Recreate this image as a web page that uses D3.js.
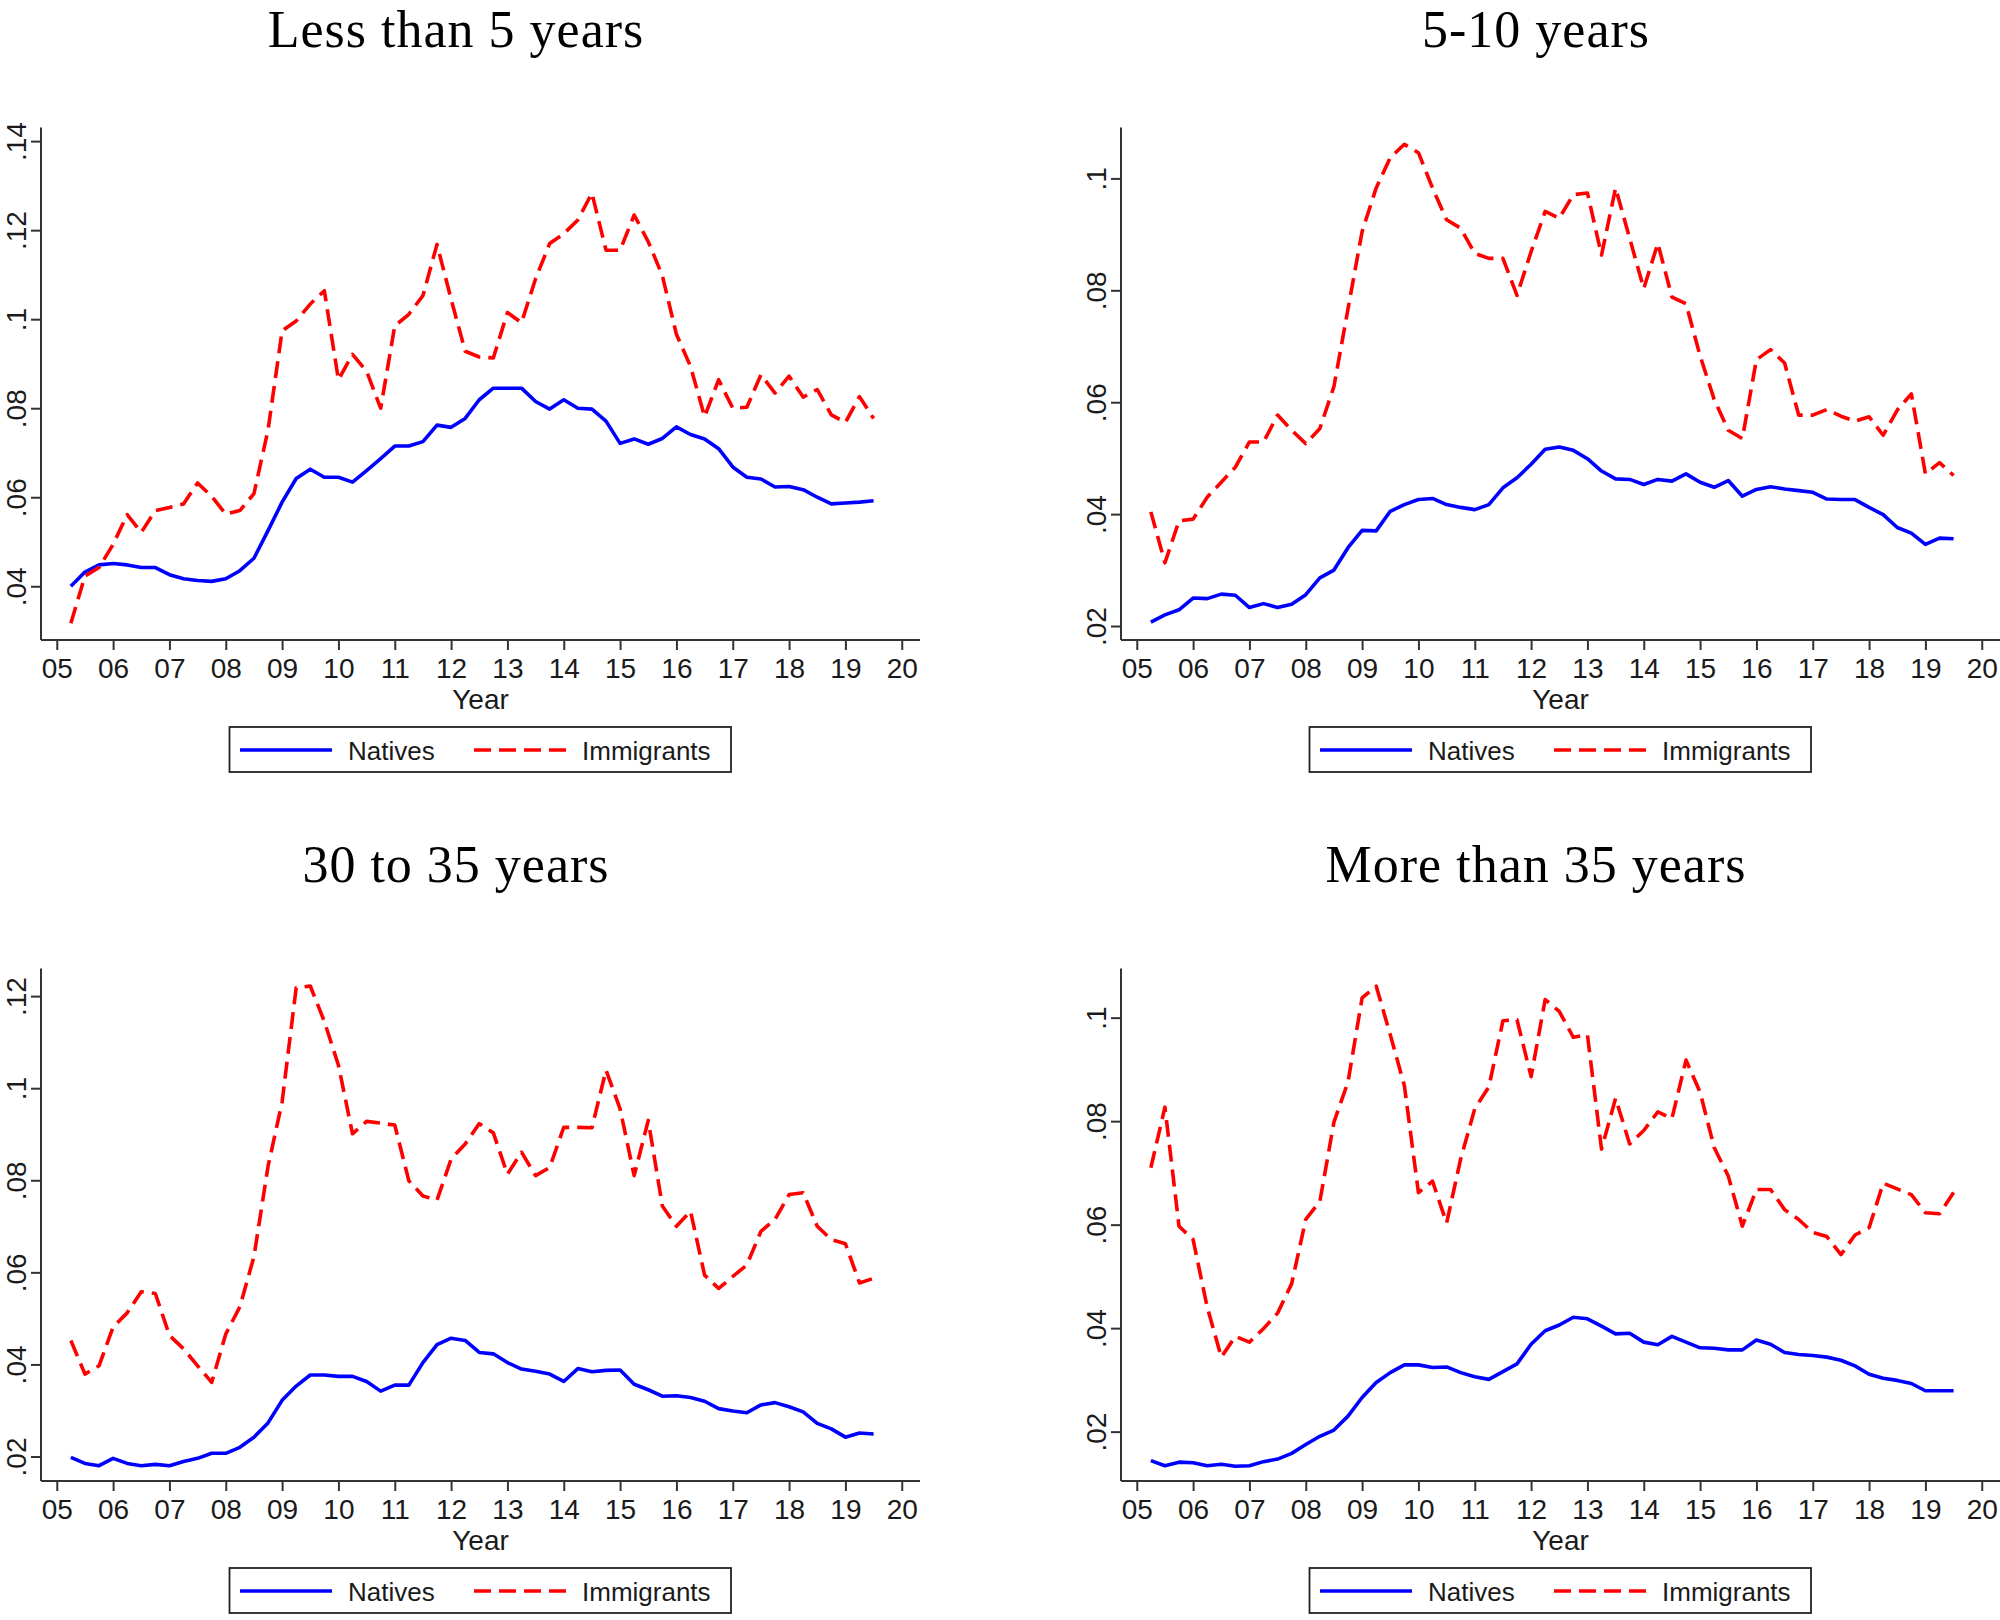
<!DOCTYPE html>
<html>
<head>
<meta charset="utf-8">
<script src="https://cdn.jsdelivr.net/npm/d3@7"></script>
<style>
  body { margin: 0; background: #fff; }
  svg { display: block; }
</style>
</head>
<body>
<svg id="chart" width="2000" height="1620"></svg>
<script>
// quarters (year - 2000)
const quarters = [5.25, 5.5, 5.75,
  6, 6.25, 6.5, 6.75, 7, 7.25, 7.5, 7.75, 8, 8.25, 8.5, 8.75,
  9, 9.25, 9.5, 9.75, 10, 10.25, 10.5, 10.75, 11, 11.25, 11.5, 11.75,
  12, 12.25, 12.5, 12.75, 13, 13.25, 13.5, 13.75, 14, 14.25, 14.5, 14.75,
  15, 15.25, 15.5, 15.75, 16, 16.25, 16.5, 16.75, 17, 17.25, 17.5, 17.75,
  18, 18.25, 18.5, 18.75, 19, 19.25, 19.5]

const xTicks = [5, 6, 7, 8, 9, 10, 11, 12, 13, 14, 15, 16, 17, 18, 19, 20]
const xTickLabels = ["05", "06", "07", "08", "09", "10", "11", "12", "13", "14", "15", "16", "17", "18", "19", "20"]
const xDomain = [4.72, 20.324]

const titles = ["Less than 5 years", "5-10 years", "30 to 35 years", "More than 35 years"]
const seriesNames = ["Natives", "Immigrants"]

const natLt5 = [.0400, .0432, .0448, .0451, .0448, .0442, .0442, .0426, .0417, .0413, .0411, .0417, .0435, .0463, .0525,
  .0589, .0642, .0663, .0645, .0645, .0634, .0660, .0687, .0715, .0715, .0725, .0762, .0757, .0777, .0819, .0845,
  .0845, .0845, .0815, .0798, .0819, .0800, .0798, .0771, .0721, .0731, .0719, .0732, .0758, .0741, .0731, .0709,
  .0668, .0645, .0641, .0623, .0624, .0617, .0600, .0585, .0587, .0589, .0592]
const immLt5 = [.0317, .0423, .0442, .0494, .0561, .0521, .0570, .0577, .0585, .0632, .0602, .0562, .0570, .0608, .0751,
  .0974, .0996, .1034, .1064, .0864, .0921, .0883, .0800, .0985, .1011, .1053, .1168, .1045, .0928, .0915, .0913,
  .1015, .0992, .1091, .1170, .1192, .1223, .1283, .1155, .1155, .1234, .1174, .1098, .0966, .0894, .0781, .0864,
  .0800, .0802, .0875, .0834, .0872, .0825, .0842, .0785, .0768, .0826, .0777]

const nat5to10 = [.0207, .0220, .0229, .0250, .0249, .0257, .0255, .0233, .0240, .0233, .0239, .0256, .0286, .0300, .0340,
  .0371, .0370, .0405, .0417, .0426, .0428, .0417, .0412, .0408, .0417, .0447, .0465, .0489, .0516, .0520, .0514,
  .0499, .0477, .0463, .0462, .0453, .0462, .0459, .0472, .0457, .0448, .0460, .0432, .0444, .0449, .0445, .0442,
  .0439, .0427, .0426, .0426, .0412, .0399, .0376, .0366, .0346, .0357, .0356]
const imm5to10 = [.0404, .0313, .0388, .0391, .0430, .0457, .0484, .0529, .0529, .0577, .0550, .0526, .0553, .0628, .0767,
  .0905, .0983, .1037, .1061, .1046, .0983, .0926, .0911, .0866, .0857, .0857, .0791, .0869, .0941, .0929, .0971,
  .0974, .0863, .0983, .0893, .0803, .0884, .0788, .0776, .0683, .0605, .0550, .0535, .0676, .0694, .0670, .0577,
  .0577, .0587, .0575, .0566, .0574, .0541, .0586, .0615, .0472, .0492, .0469]

const nat30to35 = [.0198, .0185, .0180, .0196, .0185, .0180, .0183, .0180, .0189, .0196, .0207, .0207, .0220, .0242, .0273,
  .0322, .0353, .0377, .0377, .0374, .0374, .0363, .0342, .0355, .0355, .0404, .0443, .0457, .0452, .0426, .0423,
  .0404, .0390, .0385, .0379, .0363, .0391, .0384, .0387, .0388, .0357, .0345, .0331, .0332, .0328, .0320, .0304,
  .0299, .0295, .0312, .0317, .0308, .0297, .0272, .0260, .0242, .0251, .0249]
const imm30to35 = [.0452, .0379, .0397, .0481, .0512, .0558, .0554, .0463, .0434, .0397, .0361, .0466, .0525, .0634, .0830,
  .0970, .1218, .1222, .1145, .1050, .0901, .0928, .0924, .0920, .0799, .0766, .0757, .0846, .0879, .0923, .0903,
  .0813, .0861, .0810, .0828, .0915, .0915, .0914, .1039, .0955, .0810, .0930, .0744, .0700, .0733, .0594, .0565,
  .0591, .0616, .0689, .0715, .0769, .0773, .0700, .0671, .0662, .0577, .0587]

const natGt35 = [.0144, .0134, .0141, .0140, .0134, .0137, .0133, .0134, .0142, .0147, .0158, .0175, .0191, .0203, .0230,
  .0266, .0295, .0314, .0329, .0329, .0324, .0325, .0314, .0306, .0301, .0316, .0331, .0369, .0395, .0406, .0421,
  .0418, .0404, .0389, .0390, .0373, .0368, .0384, .0373, .0362, .0361, .0358, .0358, .0377, .0369, .0353, .0349,
  .0347, .0344, .0338, .0327, .0311, .0303, .0299, .0293, .0279, .0279, .0279]
const immGt35 = [.0710, .0827, .0597, .0571, .0441, .0344, .0384, .0373, .0399, .0429, .0486, .0610, .0645, .0798, .0876,
  .1038, .1061, .0967, .0869, .0662, .0684, .0603, .0727, .0824, .0866, .0994, .0996, .0886, .1035, .1012, .0962,
  .0967, .0746, .0844, .0756, .0782, .0818, .0805, .0918, .0856, .0749, .0694, .0597, .0668, .0668, .0629, .0610,
  .0585, .0577, .0542, .0580, .0594, .0680, .0669, .0658, .0623, .0621, .0662]

const yTicks = [
  [.04, .06, .08, .1, .12, .14],
  [.02, .04, .06, .08, .1],
  [.02, .04, .06, .08, .1, .12],
  [.02, .04, .06, .08, .1]
]
const yDomains = [[.02793, .14306], [.0175, .1091], [.01468, .1260], [.01046, .1095]]

const panels = [
  {title: titles[0], nat: natLt5, imm: immLt5, col: 0, row: 0},
  {title: titles[1], nat: nat5to10, imm: imm5to10, col: 1, row: 0},
  {title: titles[2], nat: nat30to35, imm: imm30to35, col: 0, row: 1},
  {title: titles[3], nat: natGt35, imm: immGt35, col: 1, row: 1}
]

// layout
const colX = [0, 1080]
const rowY = [0, 841]
const titleY = [47, 41]   // top row kept inside the page
const plot = {left: 41, right: 920, top: 127.5, bottom: 640}
const BLUE = "#0000ff", RED = "#ff0000", INK = "#1a1a1a", AXIS = "#333"
const sans = "'Liberation Sans', Arial, sans-serif"
const serif = "'Liberation Serif', 'Times New Roman', serif"
const DASH = "17,8"
const LW = 3.6

const fmt = v => d3.format(".2f")(v).replace(/^0/, "").replace(/0$/, "")

const svg = d3.select("#chart")

panels.forEach((p, i) => {
  const g = svg.append("g")
    .attr("transform", `translate(${colX[p.col]},${rowY[p.row]})`)

  const x = d3.scaleLinear().domain(xDomain).range([plot.left, plot.right])
  const y = d3.scaleLinear().domain(yDomains[i]).range([plot.bottom, plot.top])

  // title
  g.append("text")
    .attr("x", 456).attr("y", titleY[p.row])
    .attr("text-anchor", "middle")
    .attr("font-family", serif).attr("font-size", 52)
    .attr("letter-spacing", 1)
    .attr("fill", "#000")
    .text(p.title)

  // x axis
  const xAxis = g.append("g")
    .attr("transform", `translate(0,${plot.bottom})`)
    .call(d3.axisBottom(x).tickValues(xTicks).tickSize(10).tickPadding(8)
      .tickFormat((d, k) => xTickLabels[k]))
  xAxis.select(".domain").attr("d", `M${plot.left},0H${plot.right}`)

  // y axis
  const yAxis = g.append("g")
    .attr("transform", `translate(${plot.left},0)`)
    .call(d3.axisLeft(y).tickValues(yTicks[i]).tickSize(10).tickFormat(fmt))
  yAxis.select(".domain").attr("d", `M0,${plot.top}V${plot.bottom}`)
  yAxis.selectAll(".tick text")
    .attr("transform", "rotate(-90)")
    .attr("x", 0).attr("y", -15)
    .attr("dy", 0)
    .attr("text-anchor", "middle")

  g.selectAll(".domain, .tick line").attr("stroke", AXIS).attr("stroke-width", 2)
  g.selectAll(".tick text")
    .attr("font-family", sans).attr("font-size", 28).attr("fill", INK)

  g.append("text")
    .attr("x", (plot.left + plot.right) / 2).attr("y", 709)
    .attr("text-anchor", "middle")
    .attr("font-family", sans).attr("font-size", 28).attr("fill", INK)
    .text("Year")

  // lines
  const line = d3.line()
    .x((d, k) => x(quarters[k]))
    .y(d => y(d))

  g.append("path")
    .datum(p.nat)
    .attr("d", line)
    .attr("fill", "none").attr("stroke", BLUE)
    .attr("stroke-width", LW).attr("stroke-linejoin", "round")

  g.append("path")
    .datum(p.imm)
    .attr("d", line)
    .attr("fill", "none").attr("stroke", RED)
    .attr("stroke-width", LW).attr("stroke-linejoin", "round")
    .attr("stroke-dasharray", DASH)

  // legend
  const lg = g.append("g")
  lg.append("rect")
    .attr("x", 229.5).attr("y", 727).attr("width", 501.5).attr("height", 45)
    .attr("fill", "#fff").attr("stroke", "#222").attr("stroke-width", 1.8)
  lg.append("line")
    .attr("x1", 240).attr("x2", 332).attr("y1", 750).attr("y2", 750)
    .attr("stroke", BLUE).attr("stroke-width", LW)
  lg.append("text")
    .attr("x", 348).attr("y", 759.5)
    .attr("font-family", sans).attr("font-size", 26).attr("fill", INK)
    .text(seriesNames[0])
  lg.append("line")
    .attr("x1", 474).attr("x2", 567).attr("y1", 750).attr("y2", 750)
    .attr("stroke", RED).attr("stroke-width", LW)
    .attr("stroke-dasharray", DASH)
  lg.append("text")
    .attr("x", 582).attr("y", 759.5)
    .attr("font-family", sans).attr("font-size", 26).attr("fill", INK)
    .text(seriesNames[1])
})
</script>
</body>
</html>
